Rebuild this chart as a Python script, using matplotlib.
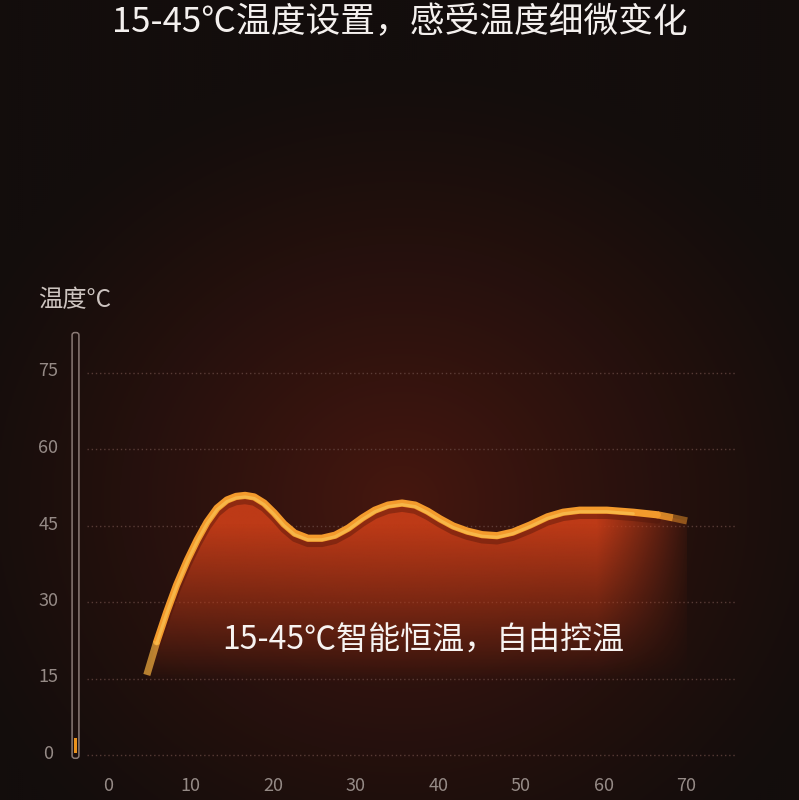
import numpy as np
import matplotlib
matplotlib.use("Agg")
import matplotlib.pyplot as plt
from matplotlib.patches import FancyBboxPatch, Rectangle
from matplotlib.transforms import offset_copy, ScaledTranslation

plt.rcParams['font.family'] = ['Noto Sans CJK SC', 'DejaVu Sans']

# --- data ---
time_min = [4.7, 5.9, 7.1, 8.3, 9.6, 10.8, 12.0, 13.2, 14.4, 15.5, 16.6, 17.7,
            18.9, 20.1, 21.3, 22.6, 24.2, 25.9, 27.5, 29.1, 30.8, 32.3, 33.9,
            35.6, 37.2, 38.7, 40.2, 41.8, 43.5, 45.3, 47.1, 49.0, 51.1, 53.2,
            55.1, 57.1, 60.4, 63.6, 66.5, 68.4, 70.1]
temp_c = [15.7, 22.2, 28.0, 33.3, 38.2, 42.2, 45.7, 48.4, 50.0, 50.7, 50.9, 50.6,
          49.4, 47.5, 45.3, 43.5, 42.5, 42.5, 43.1, 44.5, 46.5, 48.0, 49.0,
          49.4, 49.0, 47.8, 46.3, 44.9, 43.9, 43.2, 43.0, 43.7, 45.1, 46.7,
          47.6, 48.0, 48.0, 47.6, 47.1, 46.5, 45.9]
x_ticks = [0, 10, 20, 30, 40, 50, 60, 70]
y_ticks = [0, 15, 30, 45, 60, 75]

title = "15-45℃温度设置，感受温度细微变化"
y_label = "温度°C"
note = "15-45℃智能恒温，自由控温"

W, H = 799, 800
fig = plt.figure(figsize=(W / 100, H / 100), dpi=100)

# --- background: dark radial glow ---
bg_ax = fig.add_axes([0, 0, 1, 1], zorder=-10)
yy, xx = np.mgrid[0:H:2, 0:W:2]
r = np.sqrt(((xx - 400) / 480.0) ** 2 + ((yy - 500) / 440.0) ** 2)
t = np.clip(1 - r, 0, 1) ** 1.25
edge = np.array([0x13, 0x0d, 0x0c]) / 255
center = np.array([0x46, 0x17, 0x0f]) / 255
bg = edge + (center - edge) * t[..., None]
bg_ax.imshow(bg, extent=[0, 1, 0, 1], aspect='auto', origin='upper')
bg_ax.axis('off')

# --- main axes (pixel placement) ---
ax = fig.add_axes([87.35 / W, 39.9 / H, 648.4 / W, 433.5 / H])
ax.patch.set_alpha(0)

# gradient fill under the curve
poly = ax.fill_between(time_min, temp_c, 0, facecolor='none', edgecolor='none')
gy, gx = np.mgrid[0:55:0.25, 0:75:0.25]
alpha_v = np.clip((gy - 14) / 31.0, 0, 1)
alpha_h = np.clip((71 - gx) / 12.0, 0, 1)
grad = np.zeros(gx.shape + (4,))
grad[..., :3] = np.array([0xbd, 0x3a, 0x17]) / 255
grad[..., 3] = alpha_v * alpha_h
im = ax.imshow(grad, extent=(0, 75, 0, 55), origin='lower', aspect='auto',
               zorder=2, interpolation='bilinear')
im.set_clip_path(poly.get_paths()[0], transform=ax.transData)

# shadow band under the line
shadow_tr = offset_copy(ax.transData, fig=fig, x=0, y=-5, units='dots')
ax.plot(time_min[1:-2], temp_c[1:-2], color='#4a1209', lw=5.5, alpha=0.4,
        solid_capstyle='round', solid_joinstyle='round',
        transform=shadow_tr, zorder=3)

# main line, with faded ends
ax.plot(time_min[1:-2], temp_c[1:-2], color='#f39a2c', lw=5.2,
        solid_capstyle='round', solid_joinstyle='round', zorder=4)
ax.plot(time_min[:2], temp_c[:2], color='#f6b040', lw=5.2, alpha=0.7,
        solid_capstyle='butt', zorder=4)
ax.plot(time_min[-3:-1], temp_c[-3:-1], color='#f39a2c', lw=5.2, alpha=0.85,
        solid_capstyle='butt', zorder=4)
ax.plot(time_min[-2:], temp_c[-2:], color='#f0962a', lw=5.2, alpha=0.5,
        solid_capstyle='butt', zorder=4)
hl_tr = offset_copy(ax.transData, fig=fig, x=0, y=-1.5, units='dots')
ax.plot(time_min[1:-3], temp_c[1:-3], color='#f8bc4e', lw=2.2, alpha=0.85,
        solid_capstyle='round', solid_joinstyle='round',
        transform=hl_tr, zorder=5)

ax.set_xlim(-2.5, 76)
ax.set_ylim(-1, 84)
ax.set_xticks(x_ticks)
ax.set_yticks(y_ticks)
ax.grid(axis='y', color='#6a4a44', lw=1, linestyle=(0, (1, 2)), alpha=0.75)
ax.set_axisbelow(True)
for s in ax.spines.values():
    s.set_visible(False)
ax.tick_params(axis='both', length=0, labelsize=13, labelcolor='#958a86')
ax.tick_params(axis='x', pad=12.5)
ax.tick_params(axis='y', pad=28)
# y labels sit a little above their gridlines
lift = ScaledTranslation(0, 3 / 100, fig.dpi_scale_trans)
for lab in ax.get_yticklabels():
    lab.set_horizontalalignment('center')
    lab.set_transform(lab.get_transform() + lift)

# thermometer-like tube at left
th = fig.add_axes([71 / W, 40 / H, 9 / W, 430 / H])
th.set_xlim(0, 1)
th.set_ylim(0, 1)
th.axis('off')
th.add_patch(FancyBboxPatch((0.12, 0.004), 0.76, 0.99,
                            boxstyle="round,pad=0,rounding_size=0.3",
                            mutation_aspect=0.02, facecolor='#1c0f0d',
                            edgecolor='#8a7a76', lw=1.1))
th.add_patch(Rectangle((0.33, 0.016), 0.36, 0.035, facecolor='#ea921e',
                       edgecolor='none'))

# texts
fig.text(0.5, 1 - 23 / H, title, ha='center', va='center', fontsize=25,
         color='#f4f0ee')
fig.text(38 / W, 1 - 300 / H, y_label, ha='left', va='center', fontsize=17.5,
         color='#cdc4c0')
fig.text(423 / W, 1 - 640 / H, note, ha='center', va='center', fontsize=23,
         color='#f7f3f1', zorder=10)

fig.savefig("out.png", dpi=100, facecolor='#130d0c')
